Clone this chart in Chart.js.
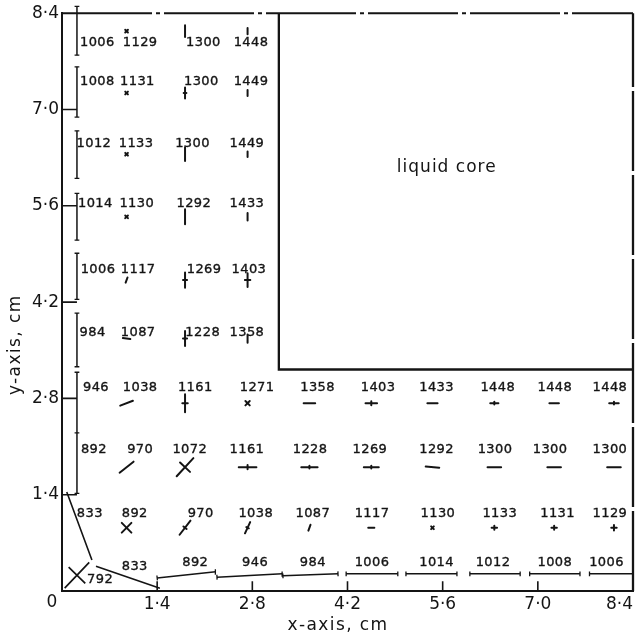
<!DOCTYPE html>
<html>
<head>
<meta charset="utf-8">
<script src="https://cdn.jsdelivr.net/npm/chart.js@4.4.1/dist/chart.umd.min.js"></script>
<style>
html,body{margin:0;padding:0;background:#ffffff;}
canvas{display:block;}
</style>
</head>
<body>
<canvas id="chart" width="638" height="636"></canvas>
<script>
// ---------------- data ----------------
const axisTicks = [0, 1.4, 2.8, 4.2, 5.6, 7.0, 8.4];
const axisTickLabels = ['0', '1·4', '2·8', '4·2', '5·6', '7·0', '8·4'];
const xTitle = 'x-axis, cm';
const yTitle = 'y-axis, cm';
const coreLabel = 'liquid core';
const coreLabelPos = [5.66, 6.16];

// temperatures written at the nodes
const tempValues = [
  1006, 1129, 1300, 1448,
  1008, 1131, 1300, 1449,
  1012, 1133, 1300, 1449,
  1014, 1130, 1292, 1433,
  1006, 1117, 1269, 1403,
  984, 1087, 1228, 1358,
  946, 1038, 1161, 1271, 1358, 1403, 1433, 1448, 1448, 1448,
  892, 970, 1072, 1161, 1228, 1269, 1292, 1300, 1300, 1300,
  833, 892, 970, 1038, 1087, 1117, 1130, 1133, 1131, 1129,
  792, 833, 892, 946, 984, 1006, 1014, 1012, 1008, 1006
];
const tempX = [
  0.52, 1.15, 2.08, 2.78,
  0.52, 1.11, 2.05, 2.78,
  0.47, 1.09, 1.92, 2.72,
  0.49, 1.10, 1.94, 2.72,
  0.53, 1.12, 2.09, 2.75,
  0.45, 1.12, 2.07, 2.72,
  0.50, 1.15, 1.96, 2.87, 3.76, 4.65, 5.51, 6.41, 7.25, 8.06,
  0.47, 1.15, 1.88, 2.72, 3.65, 4.53, 5.51, 6.37, 7.18, 8.06,
  0.41, 1.07, 2.04, 2.85, 3.69, 4.56, 5.53, 6.44, 7.29, 8.06,
  0.56, 1.07, 1.96, 2.84, 3.69, 4.56, 5.51, 6.34, 7.25, 8.01
];
const tempY = [
  7.97, 7.97, 7.97, 7.97,
  7.40, 7.40, 7.40, 7.40,
  6.50, 6.50, 6.50, 6.50,
  5.63, 5.63, 5.63, 5.63,
  4.67, 4.67, 4.67, 4.67,
  3.76, 3.76, 3.76, 3.76,
  2.95, 2.95, 2.95, 2.95, 2.95, 2.95, 2.95, 2.95, 2.95, 2.95,
  2.05, 2.05, 2.05, 2.05, 2.05, 2.05, 2.05, 2.05, 2.05, 2.05,
  1.13, 1.13, 1.13, 1.13, 1.13, 1.13, 1.13, 1.13, 1.13, 1.13,
  0.17, 0.35, 0.41, 0.41, 0.41, 0.41, 0.41, 0.41, 0.41, 0.41
];

// element centres where the stress crosses sit
const nodeX = [0.95, 1.81, 2.73, 3.64, 4.55, 5.45, 6.36, 7.24, 8.12];
const nodeY = [0.92, 1.80, 2.73, 3.67, 4.52, 5.44, 6.35, 7.24, 8.14];
const crossRow = [
  0, 0, 0, 0, 0, 0, 0, 0, 0,
  1, 1, 1, 1, 1, 1, 1, 1, 1,
  2, 2, 2, 2, 2, 2, 2, 2, 2,
  3, 3, 3, 4, 4, 4, 5, 5, 5, 6, 6, 6, 7, 7, 7, 8, 8, 8
];
const crossCol = [
  0, 1, 2, 3, 4, 5, 6, 7, 8,
  0, 1, 2, 3, 4, 5, 6, 7, 8,
  0, 1, 2, 3, 4, 5, 6, 7, 8,
  0, 1, 2, 0, 1, 2, 0, 1, 2, 0, 1, 2, 0, 1, 2, 0, 1, 2
];
// principal stress arms (half length, cm) and direction (deg)
const crossMajor = [
  0.10, 0.13, 0.09, 0.045, 0.045, 0.028, 0.04, 0.04, 0.04,
  0.13, 0.18, 0.13, 0.12, 0.11, 0.10, 0.10, 0.10, 0.10,
  0.10, 0.13, 0.045, 0.085, 0.085, 0.075, 0.06, 0.07, 0.07,
  0.055, 0.11, 0.06,
  0.04, 0.11, 0.10,
  0.028, 0.11, 0.055,
  0.028, 0.10, 0.04,
  0.028, 0.08, 0.045,
  0.028, 0.085, 0.045
];
const crossAngle = [
  45, 52, 65, 70, 0, 45, 0, 0, 0,
  38, 47, 0, 0, 0, -5, 0, 0, 0,
  21, 90, 45, 0, 0, 0, 0, 0, 0,
  -8, 90, 90,
  70, 90, 90,
  45, 90, 90,
  45, 90, 90,
  45, 90, 90,
  45, 90, 90
];
const crossMinor = [
  0.10, 0.03, 0.02, 0, 0, 0.028, 0.03, 0.03, 0.04,
  0, 0.10, 0.03, 0.02, 0.02, 0, 0, 0, 0,
  0, 0.04, 0.045, 0, 0.03, 0, 0.02, 0, 0.02,
  0, 0.03, 0,
  0, 0.03, 0.04,
  0.028, 0, 0,
  0.028, 0, 0,
  0.028, 0.02, 0,
  0.028, 0, 0
];
// the big cross of the corner element
const cornerCrossX = [0.22];
const cornerCrossY = [0.23];
const cornerCrossMajor = [0.26];
const cornerCrossAngle = [46];
const cornerCrossMinor = [0.17];

// stress lines in the boundary strip elements
const stripX1 = [0.22, 0.22, 0.22, 0.22, 0.22, 0.22, 0.22, 0.22, 1.40, 2.28, 3.25, 4.18, 5.06, 6.00, 6.88, 7.76];
const stripY1 = [8.50, 7.62, 6.69, 5.78, 4.91, 4.04, 3.18, 2.30, 0.19, 0.20, 0.22, 0.25, 0.25, 0.25, 0.25, 0.25];
const stripX2 = [0.22, 0.22, 0.22, 0.22, 0.22, 0.22, 0.22, 0.22, 2.26, 3.24, 4.06, 4.94, 5.81, 6.74, 7.62, 8.40];
const stripY2 = [7.79, 6.89, 6.00, 5.10, 4.24, 3.26, 2.30, 1.42, 0.28, 0.25, 0.25, 0.25, 0.25, 0.25, 0.25, 0.25];

// corner element lines
const cornerX1 = [0.07, 0.50];
const cornerY1 = [1.44, 0.36];
const cornerX2 = [0.44, 1.44];
const cornerY2 = [0.45, 0.04];

// liquid core boundary
const coreX = [3.19, 3.19, 8.40];
const coreY = [8.40, 3.22, 3.22];

// ---------------- helpers ----------------
const INK = '#141414';
const FONT = '"DejaVu Sans", "Liberation Sans", sans-serif';
const GAP = (x) => ({x: x, y: null});

function segData(x1, y1, x2, y2) {
  const d = [];
  for (let i = 0; i < x1.length; i++) {
    d.push({x: x1[i], y: y1[i]}, {x: x2[i], y: y2[i]}, GAP(x2[i]));
  }
  return d;
}
function capData(x1, y1, x2, y2, half) {
  const d = [];
  for (let i = 0; i < x1.length; i++) {
    const dx = x2[i] - x1[i], dy = y2[i] - y1[i];
    const L = Math.hypot(dx, dy) || 1;
    const px = -dy / L * half, py = dx / L * half;
    [[x1[i], y1[i]], [x2[i], y2[i]]].forEach(([cx, cy]) => {
      d.push({x: cx - px, y: cy - py}, {x: cx + px, y: cy + py}, GAP(cx));
    });
  }
  return d;
}
function crossData(xs, ys, major, angle, minor) {
  const d = [];
  for (let i = 0; i < xs.length; i++) {
    const a = angle[i] * Math.PI / 180;
    const cx = xs[i], cy = ys[i];
    d.push({x: cx - major[i] * Math.cos(a), y: cy - major[i] * Math.sin(a)},
           {x: cx + major[i] * Math.cos(a), y: cy + major[i] * Math.sin(a)}, GAP(cx));
    if (minor[i] > 0) {
      const b = a + Math.PI / 2;
      d.push({x: cx - minor[i] * Math.cos(b), y: cy - minor[i] * Math.sin(b)},
             {x: cx + minor[i] * Math.cos(b), y: cy + minor[i] * Math.sin(b)}, GAP(cx));
    }
  }
  return d;
}
const crossXs = crossCol.map(c => nodeX[c]);
const crossYs = crossRow.map(r => nodeY[r]);

// inner tick marks
const xTickMarks = [];
axisTicks.slice(1, -1).forEach(v => { xTickMarks.push({x: v, y: 0}, {x: v, y: 0.14}, GAP(v)); });
const yTickMarks = [];
axisTicks.slice(1, -1).forEach(v => { yTickMarks.push({x: 0, y: v}, {x: 0.22, y: v}, GAP(0)); });

function lineSet(data, width, opts) {
  return Object.assign({
    data: data, showLine: true, borderColor: INK, backgroundColor: INK,
    borderWidth: width, pointRadius: 0, pointHoverRadius: 0, fill: false,
    tension: 0, spanGaps: false, clip: false, borderCapStyle: 'butt'
  }, opts || {});
}

const datasets = [
  lineSet(crossData(crossXs, crossYs, crossMajor, crossAngle, crossMinor), 2, {borderCapStyle: 'round'}),
  lineSet(crossData(cornerCrossX, cornerCrossY, cornerCrossMajor, cornerCrossAngle, cornerCrossMinor), 1.7),
  lineSet(segData(stripX1, stripY1, stripX2, stripY2), 1.5),
  lineSet(capData(stripX1, stripY1, stripX2, stripY2, 0.035), 1.3),
  lineSet(segData(cornerX1, cornerY1, cornerX2, cornerY2), 1.6),
  lineSet(xTickMarks, 1.6),
  lineSet(yTickMarks, 1.6),
  lineSet(coreX.map((x, i) => ({x: x, y: coreY[i]})), 2.3),
  lineSet([{x: 0, y: 8.4}, {x: 8.4, y: 8.4}], 2, {borderDash: [90, 4, 4, 4]}),
  lineSet([{x: 8.4, y: 0}, {x: 8.4, y: 8.4}], 2.3, {borderDash: [80, 4]})
];

function drawText(ctx, txt, x, y, bold) {
  ctx.fillText(txt, x, y);
  if (bold) { ctx.strokeText(txt, x, y); }
}

const textLayer = {
  id: 'textLayer',
  afterDatasetsDraw(chart) {
    const {ctx, chartArea} = chart;
    const xs = chart.scales.x, ys = chart.scales.y;
    ctx.save();
    ctx.fillStyle = INK;
    ctx.strokeStyle = INK;
    ctx.lineWidth = 0.35;
    ctx.textAlign = 'center';
    ctx.textBaseline = 'middle';
    ctx.font = '13px ' + FONT;
    ctx.letterSpacing = '0.4px';
    tempValues.forEach((t, i) => {
      drawText(ctx, String(t), xs.getPixelForValue(tempX[i]), ys.getPixelForValue(tempY[i]), true);
    });
    ctx.font = '17px ' + FONT;
    ctx.letterSpacing = '1px';
    drawText(ctx, coreLabel, xs.getPixelForValue(coreLabelPos[0]), ys.getPixelForValue(coreLabelPos[1]), false);
    ctx.letterSpacing = '0px';
    // origin label shared by both axes
    ctx.fillText(axisTickLabels[0], xs.getPixelForValue(0) - 10, chartArea.bottom + 12);
    // axis titles
    ctx.font = '17px ' + FONT;
    ctx.letterSpacing = '1.4px';
    ctx.fillText(xTitle, xs.getPixelForValue(4.06), chartArea.bottom + 35);
    ctx.save();
    ctx.translate(16, ys.getPixelForValue(3.58));
    ctx.rotate(-Math.PI / 2);
    ctx.fillText(yTitle, 0, 0);
    ctx.restore();
    ctx.restore();
  }
};

function axisOpts(isX) {
  return {
    type: 'linear', min: 0, max: 8.4,
    afterBuildTicks: s => { s.ticks = axisTicks.map(v => ({value: v})); },
    afterFit: s => { if (isX) { s.height = 45; } else { s.width = 62; } },
    grid: {display: false, drawTicks: false},
    border: {display: true, color: INK, width: 2},
    ticks: {
      callback: (v, i) => (i === 0 ? '' : axisTickLabels[i]),
      font: {family: FONT, size: 17},
      color: INK,
      padding: 3,
      autoSkip: false,
      maxRotation: 0,
      align: isX ? 'inner' : 'center'
    }
  };
}

new Chart(document.getElementById('chart'), {
  type: 'scatter',
  data: {datasets: datasets},
  options: {
    responsive: false,
    animation: false,
    devicePixelRatio: 1,
    layout: {padding: {top: 13, right: 5, left: 0, bottom: 0}},
    plugins: {legend: {display: false}, tooltip: {enabled: false}},
    scales: {x: axisOpts(true), y: axisOpts(false)}
  },
  plugins: [textLayer]
});
</script>
</body>
</html>
